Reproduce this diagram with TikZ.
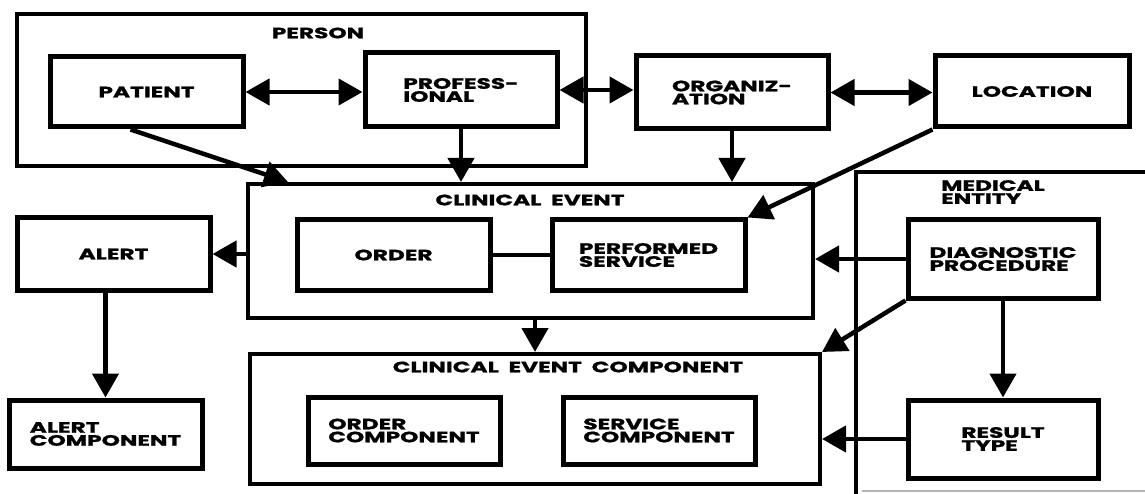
\documentclass[tikz,border=0pt]{standalone}
\usepackage{fontspec}
\setmainfont{Poppins}[FakeStretch=1.55,FakeBold=1.2]
\usetikzlibrary{arrows.meta,calc}
\begin{document}
\begin{tikzpicture}[x=1pt,y=-1pt,
  box/.style={draw,line width=5pt,inner sep=0pt,font=\fontsize{15}{13}\selectfont\bfseries,align=left},
  grp/.style={draw,line width=4pt,inner sep=0pt},
  lbl/.style={font=\fontsize{15}{13}\selectfont\bfseries,align=left,inner sep=0pt},
  conn/.style={line width=4.5pt},
  arr/.style={conn,-{Triangle[length=24pt,width=26pt]}},
  darr/.style={conn,{Triangle[length=24pt,width=26pt]}-{Triangle[length=24pt,width=26pt]}}
]
\useasboundingbox (0,0) rectangle (1145,494);
% group frames
\node[grp,minimum width=569pt,minimum height=152pt] (person) at (301.5,90) {};
\node[lbl] (personlbl) at (318,33) {PERSON};
\node[grp,minimum width=565pt,minimum height=134pt] (ce) at (530.5,251) {};
\node[lbl] (celbl) at (530,200) {CLINICAL\ \ EVENT};
\node[grp,minimum width=570pt,minimum height=130pt] (cec) at (535,419) {};
\node[lbl] (ceclbl) at (568,367) {CLINICAL\ \ EVENT\ \ COMPONENT};
\draw[line width=3.5pt] (856,494) -- (856,172) -- (1145,172);
\draw[line width=1.5pt,gray!60] (862,491) -- (1145,491);
\node[lbl] (melbl) at (993,192) {MEDICAL\\ENTITY};
% boxes
\node[box,minimum width=193pt,minimum height=70pt] (patient) at (146.5,92) {PATIENT};
\node[box,minimum width=192pt,minimum height=74pt] (prof) at (461,90) {PROFESS-\\IONAL};
\node[box,minimum width=192pt,minimum height=73pt] (org) at (732,92.5) {ORGANIZ-\\ATION};
\node[box,minimum width=194pt,minimum height=71pt] (loc) at (1032,91.5) {LOCATION};
\node[box,minimum width=193pt,minimum height=70pt] (order) at (393.5,255) {ORDER};
\node[box,minimum width=193pt,minimum height=70pt] (perf) at (648.5,255) {PERFORMED\\SERVICE};
\node[box,minimum width=193pt,minimum height=72pt] (alert) at (113.5,254) {ALERT};
\node[box,minimum width=193pt,minimum height=68pt] (ac) at (105.5,434) {ALERT\\COMPONENT};
\node[box,minimum width=192pt,minimum height=67pt] (oc) at (404,430.5) {ORDER\\COMPONENT};
\node[box,minimum width=192pt,minimum height=67pt] (sc) at (659,430.5) {SERVICE\\COMPONENT};
\node[box,minimum width=190pt,minimum height=78pt] (diag) at (1003,259) {DIAGNOSTIC\\PROCEDURE};
\node[box,minimum width=190pt,minimum height=78pt] (res) at (1003,439) {RESULT\\TYPE};
% connectors
\draw[darr] (patient.east) -- (patient.east -| prof.west);
\draw[darr] (prof.east) -- (prof.east -| org.west);
\draw[darr] (org.east) -- (org.east -| loc.west);
\draw[arr] ($(patient.south)+(-16,0)$) -- ($(ce.north west)+(42,0)$);
\draw[arr] (prof.south) -- (prof.south |- ce.north);
\draw[arr] (org.south) -- (org.south |- ce.north);
\draw[arr] (loc.south west) -- (perf.north east);
\draw[arr] (ce.west |- alert.east) -- (alert.east);
\draw[conn] (order.east) -- (perf.west);
\draw[arr] (diag.west) -- (diag.west -| ce.east);
\draw[arr] (diag.south west) -- (cec.north east);
\draw[arr] (diag.south) -- (res.north);
\draw[arr] (res.west) -- (res.west -| cec.east);
\draw[arr] (ce.south -| cec.north) -- (cec.north);
\draw[arr] (alert.south -| ac.north) -- (ac.north);
\end{tikzpicture}
\end{document}
